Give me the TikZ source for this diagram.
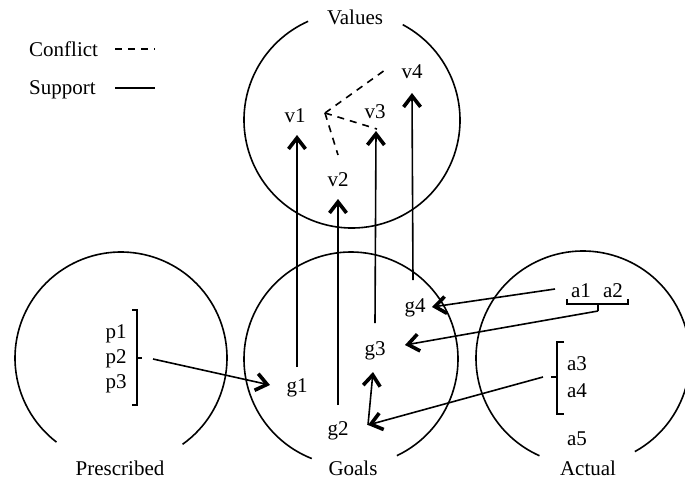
\documentclass[tikz,border=0pt]{standalone}
\usepackage{fontspec}
\setmainfont{Liberation Serif}
\usetikzlibrary{arrows.meta}
\begin{document}
\begin{tikzpicture}[x=1pt,y=-1pt,
  lbl/.style={font=\fontsize{21}{25}\selectfont, inner sep=0pt, anchor=base},
  ring/.style={line width=1.6pt},
  sup/.style={line width=1.6pt, -{Straight Barb[length=11pt,width=17pt,line width=3.6pt]}},
  con/.style={line width=1.6pt, dash pattern=on 7pt off 6pt},
  brk/.style={line width=1.6pt}]
\useasboundingbox (0,0) rectangle (685,480);
% legend
\node[lbl, anchor=base west] (conflict) at (29,56) {Conflict};
\node[lbl, anchor=base west] (support) at (29,94) {Support};
\coordinate (cla) at (115,49); \coordinate (clb) at (155,49);
\coordinate (sla) at (115,88); \coordinate (slb) at (155,88);
\draw[con] (cla) -- (clb);
\draw[brk] (sla) -- (slb);
% circles
\coordinate (vc) at (352,120);
\coordinate (pc) at (121,358);
\coordinate (gc) at (351,359);
\coordinate (ac) at (583,358);
\draw[ring] (vc) ++(62:108pt) arc[start angle=62, end angle=-246, radius=108pt];
\draw[ring] (pc) ++(-54.5:106pt) arc[start angle=-54.5, end angle=232.5, radius=106pt];
\draw[ring] (gc) ++(-64.6:107pt) arc[start angle=-64.6, end angle=248.5, radius=107pt];
\draw[ring] (ac) ++(-61:107pt) arc[start angle=-61, end angle=246, radius=107pt];
% labels
\node[lbl] (values) at (355,24) {Values};
\node[lbl] (prescribed) at (120,475) {Prescribed};
\node[lbl] (goals) at (353,475) {Goals};
\node[lbl] (actual) at (588,475) {Actual};
\node[lbl] (v1) at (295,122) {v1};
\node[lbl] (v2) at (338,186) {v2};
\node[lbl] (v3) at (375,118) {v3};
\node[lbl] (v4) at (412,78) {v4};
\node[lbl] (g1) at (297,392) {g1};
\node[lbl] (g2) at (338,435) {g2};
\node[lbl] (g3) at (375,355) {g3};
\node[lbl] (g4) at (415,312) {g4};
\node[lbl] (p1) at (116,338) {p1};
\node[lbl] (p2) at (116,363) {p2};
\node[lbl] (p3) at (116,388) {p3};
\node[lbl] (a1) at (581,297) {a1};
\node[lbl] (a2) at (613,297) {a2};
\node[lbl] (a3) at (577,370) {a3};
\node[lbl] (a4) at (577,397) {a4};
\node[lbl] (a5) at (577,445) {a5};
% brackets
\draw[brk] (132,310) -- (137,310) -- (137,405) -- (132,405);
\draw[brk] (137,358) -- (142,358);
\draw[brk] (567,299) -- (567,304) -- (628,304) -- (628,299);
\draw[brk] (598,304) -- (598,311);
\draw[brk] (564,342) -- (557,342) -- (557,414) -- (564,414);
\draw[brk] (557,377) -- (551,377);
% connector end points
\coordinate (pout) at (153,359);
\coordinate (g1in) at (270,385);
\coordinate (g1out) at (297,367);
\coordinate (v1in) at (297,135);
\coordinate (g2out) at (338,405);
\coordinate (v2in) at (338,199);
\coordinate (g3out) at (375,323);
\coordinate (v3in) at (376,131);
\coordinate (g4out) at (413,280);
\coordinate (v4in) at (412,93);
\coordinate (a1out) at (555,289);
\coordinate (g4in) at (432,307);
\coordinate (a12out) at (598,311);
\coordinate (g3in) at (405,345);
\coordinate (a34out) at (543,377);
\coordinate (g2in) at (368,425);
\coordinate (g3inb) at (373,372);
\coordinate (v1c) at (325,113);
\coordinate (v4c) at (385,70);
\coordinate (v3c) at (377,129);
\coordinate (v2c) at (338,155);
% support arrows
\draw[sup] (pout) -- (g1in);
\draw[sup] (g1out) -- (v1in);
\draw[sup] (g2out) -- (v2in);
\draw[sup] (g3out) -- (v3in);
\draw[sup] (g4out) -- (v4in);
\draw[sup] (a1out) -- (g4in);
\draw[sup] (a12out) -- (g3in);
\draw[sup] (a34out) -- (g2in);
\draw[sup] (g2in) -- (g3inb);
% conflicts
\draw[con] (v1c) -- (v4c);
\draw[con] (v1c) -- (v3c);
\draw[con] (v1c) -- (v2c);
\end{tikzpicture}
\end{document}
